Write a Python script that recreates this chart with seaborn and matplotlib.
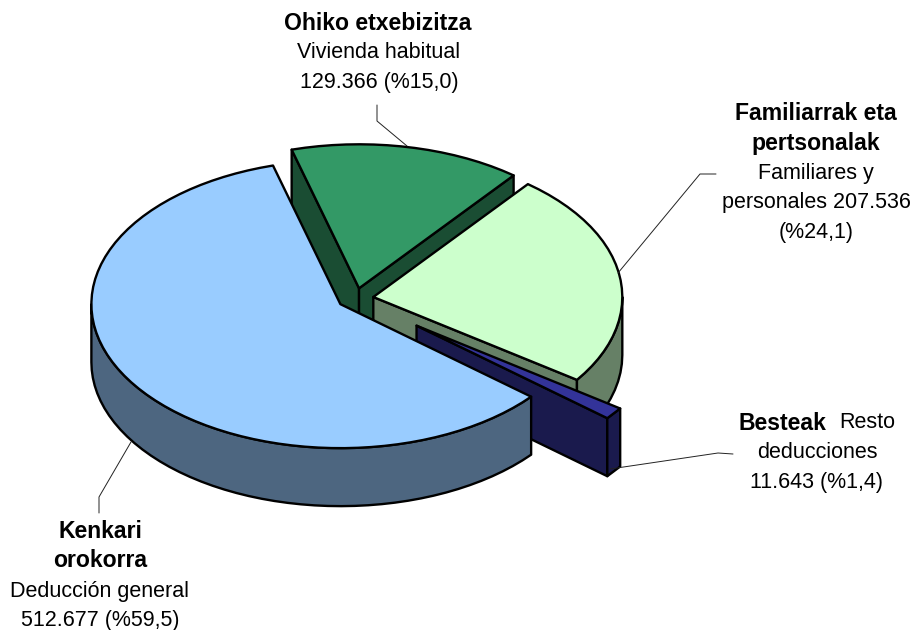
import numpy as np
import matplotlib
matplotlib.use("Agg")
import matplotlib.pyplot as plt
from matplotlib.colors import to_rgb
from matplotlib.patches import Polygon
import seaborn as sns

# slices in clockwise order, starting from the top
names = ["Ohiko etxebizitza", "Familiarrak eta personalak", "Besteak", "Kenkari orokorra"]
values = [129366, 207536, 11643, 512677]
top_colors = ["#339966", "#ccffcc", "#333399", "#99ccff"]
explode = [18, 18, 77, 18]

bold_lines = [["Ohiko etxebizitza"], ["Familiarrak eta", "pertsonalak"], ["Besteak"], ["Kenkari", "orokorra"]]
plain_lines = [["Vivienda habitual", "129.366 (%15,0)"],
               ["Familiares y", "personales 207.536", "(%24,1)"],
               ["Resto", "deducciones", "11.643 (%1,4)"],
               ["Deducción general", "512.677 (%59,5)"]]

sns.set_theme(style="white")
plt.rcParams["font.family"] = ["Liberation Sans", "DejaVu Sans"]

fig, ax = plt.subplots(figsize=(9.14, 6.30), dpi=100)
fig.subplots_adjust(0, 0, 1, 1)
ax.set_xlim(0, 914)
ax.set_ylim(630, 0)
ax.axis("off")

cx, cy = 355.5, 298.5
a, b = 249, 144
depth = 58
start = -15.7
lw = 1.7


def pt(x0, y0, deg):
    r = np.radians(deg)
    return x0 + a * np.sin(r), y0 - b * np.cos(r)


def face(pts, color):
    ax.add_patch(Polygon(pts, closed=True, facecolor=color, edgecolor="black",
                         linewidth=lw, joinstyle="round"))


def arc(x0, y0, d1, d2):
    d = np.linspace(d1, d2, max(int(abs(d2 - d1) / 3), 2))
    return list(zip(*pt(x0, y0, d)))


sweeps = np.array(values) / sum(values) * 360
angle = start
for value, sweep, top, off in zip(values, sweeps, top_colors, explode):
    d1, d2 = angle, angle + sweep
    angle = d2
    mid = np.radians((d1 + d2) / 2)
    x0 = cx + off * np.sin(mid)
    y0 = cy - off * b / a * np.cos(mid)
    side = tuple(c * 0.5 for c in to_rgb(top))

    # cut faces, only the ones turned to the viewer
    for d, show in ((d1, np.sin(np.radians(d1)) < 0), (d2, np.sin(np.radians(d2)) > 0)):
        if show:
            px, py = pt(x0, y0, d)
            face([(x0, y0), (px, py), (px, py + depth), (x0, y0 + depth)], side)

    # outer wall, front half only
    lo, hi = max(d1, 90), min(d2, 270)
    if hi > lo:
        face(arc(x0, y0, lo, hi) + arc(x0, y0 + depth, hi, lo), side)

    face([(x0, y0)] + arc(x0, y0, d1, d2), top)

# leader lines
leaders = [([377, 377, 407], [105, 121, 146]),
           ([716, 700, 618], [174, 174, 273]),
           ([733, 718, 610], [454, 453, 469]),
           ([99, 99, 131], [513, 497, 442])]
for lx, ly in leaders:
    ax.plot(lx, ly, color="#222222", linewidth=0.7)

# labels
size = 15.5
bold_size = 16.6
line_h = 29.8


def label(x, y, text, weight="normal", ha="center"):
    ax.text(x, y, text, fontsize=bold_size if weight == "bold" else size,
            fontweight=weight, color="black", ha=ha, va="center")


for i, line in enumerate(bold_lines[0]):
    label(378, 24 + i * line_h, line, "bold")
for i, line in enumerate(plain_lines[0]):
    label(379, 53 + i * line_h, line)

for i, line in enumerate(bold_lines[1]):
    label(816, 114 + i * line_h, line, "bold")
for i, line in enumerate(plain_lines[1]):
    label(816, 173 + i * line_h, line)

label(738, 423, bold_lines[2][0], "bold", ha="left")
label(839, 423, plain_lines[2][0], ha="left")
for i, line in enumerate(plain_lines[2][1:]):
    label(817, 453 + i * line_h, line)

for i, line in enumerate(bold_lines[3]):
    label(100, 531 + i * line_h, line, "bold")
for i, line in enumerate(plain_lines[3]):
    label(100, 591 + i * line_h, line)

fig.savefig("out.png", dpi=100, facecolor="white")
